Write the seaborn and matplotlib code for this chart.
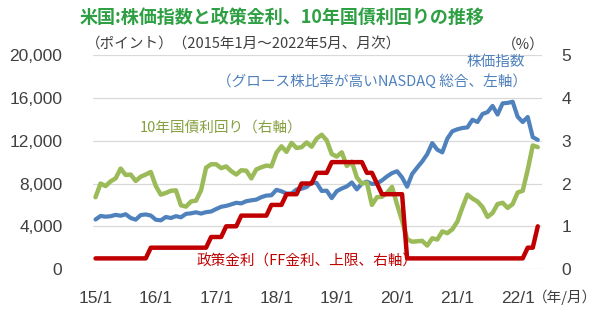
import numpy as np
import pandas as pd
import matplotlib
matplotlib.use("Agg")
import matplotlib.pyplot as plt
import seaborn as sns

sns.set_theme(style="white")
plt.rcParams['font.family'] = ['Noto Sans CJK JP', 'DejaVu Sans']

# ---- data (monthly, 2015/1 .. 2022/5) ----
nasdaq = [
    4635, 4964, 4901, 4941, 5070, 4987, 5128, 4777, 4620, 5054, 5109, 5007,
    4614, 4558, 4870, 4775, 4948, 4843, 5162, 5213, 5312, 5189, 5324, 5383,
    5615, 5825, 5912, 6048, 6199, 6140, 6348, 6429, 6496, 6728, 6874, 6903,
    7411, 7273, 7063, 7066, 7442, 7510, 7672, 8110, 8046, 7306, 7331, 6635,
    7282, 7533, 7729, 8095, 7453, 8006, 8175, 7963, 7999, 8292, 8665, 8973,
    9151, 8567, 7700, 8890, 9490, 10059, 10745, 11775, 11168, 10912, 12199, 12888,
    13071, 13192, 13247, 13962, 13749, 14504, 14673, 15259, 14449, 15498, 15538, 15645,
    14240, 13751, 14221, 12335, 12081,
]
yield10 = [
    1.68, 2.00, 1.94, 2.05, 2.12, 2.35, 2.20, 2.21, 2.06, 2.16, 2.21, 2.27,
    1.94, 1.74, 1.78, 1.83, 1.84, 1.49, 1.46, 1.58, 1.60, 1.84, 2.37, 2.45,
    2.45, 2.36, 2.40, 2.29, 2.21, 2.31, 2.30, 2.12, 2.33, 2.38, 2.42, 2.40,
    2.72, 2.87, 2.74, 2.95, 2.83, 2.85, 2.96, 2.86, 3.05, 3.14, 3.01, 2.69,
    2.63, 2.73, 2.41, 2.51, 2.14, 2.00, 2.02, 1.50, 1.68, 1.69, 1.78, 1.92,
    1.51, 1.13, 0.70, 0.64, 0.65, 0.66, 0.55, 0.72, 0.69, 0.88, 0.84, 0.93,
    1.11, 1.44, 1.74, 1.65, 1.58, 1.45, 1.22, 1.31, 1.52, 1.55, 1.43, 1.52,
    1.79, 1.83, 2.32, 2.89, 2.85,
]
ffrate = [
    0.25, 0.25, 0.25, 0.25, 0.25, 0.25, 0.25, 0.25, 0.25, 0.25, 0.25, 0.50,
    0.50, 0.50, 0.50, 0.50, 0.50, 0.50, 0.50, 0.50, 0.50, 0.50, 0.50, 0.75,
    0.75, 0.75, 1.00, 1.00, 1.00, 1.25, 1.25, 1.25, 1.25, 1.25, 1.25, 1.50,
    1.50, 1.50, 1.75, 1.75, 1.75, 2.00, 2.00, 2.00, 2.25, 2.25, 2.25, 2.50,
    2.50, 2.50, 2.50, 2.50, 2.50, 2.50, 2.25, 2.25, 2.00, 1.75, 1.75, 1.75,
    1.75, 1.75, 0.25, 0.25, 0.25, 0.25, 0.25, 0.25, 0.25, 0.25, 0.25, 0.25,
    0.25, 0.25, 0.25, 0.25, 0.25, 0.25, 0.25, 0.25, 0.25, 0.25, 0.25, 0.25,
    0.25, 0.25, 0.50, 0.50, 1.00,
]
xtick_labels = ["15/1", "16/1", "17/1", "18/1", "19/1", "20/1", "21/1", "22/1"]
left_ticks = [0, 4000, 8000, 12000, 16000, 20000]
right_ticks = [0, 1, 2, 3, 4, 5]

month_idx = np.arange(len(nasdaq))
df = pd.DataFrame({"m": month_idx, "nasdaq": nasdaq, "yield10": yield10, "ff": ffrate})

BLUE = "#4F81BD"
GREEN = "#9BBB59"
RED = "#C00000"
TXT = "#404040"
NUMFONT = ["Liberation Sans", "DejaVu Sans"]

fig = plt.figure(figsize=(6.0, 3.1), dpi=100)
ax = fig.add_axes([0.155, 0.132, 0.748, 0.69])
ax2 = ax.twinx()

ax.set_xlim(-0.5, 88.8)
ax.set_ylim(0, 20000)
ax2.set_ylim(0, 5)

for y in left_ticks:
    ax.axhline(y, color="#D9D9D9", lw=0.9, zorder=0)

sns.lineplot(data=df, x="m", y="nasdaq", ax=ax, color=BLUE, lw=3.0)
sns.lineplot(data=df, x="m", y="yield10", ax=ax2, color=GREEN, lw=3.2, zorder=3)
sns.lineplot(data=df, x="m", y="ff", ax=ax2, color=RED, lw=3.2, zorder=4)

for a in (ax, ax2):
    for s in a.spines.values():
        s.set_visible(False)
    a.set_xlabel("")
    a.set_ylabel("")

ax.set_yticks(left_ticks)
ax.set_yticklabels([f"{v:,}" for v in left_ticks], fontsize=12.5, color=TXT, family=NUMFONT)
ax2.set_yticks(right_ticks)
ax2.set_yticklabels([str(v) for v in right_ticks], fontsize=12.5, color=TXT, family=NUMFONT)
ax.tick_params(axis="y", length=0, pad=22)
ax2.tick_params(axis="y", length=0, pad=14)

ax.set_xticks(np.arange(len(xtick_labels)) * 12)
ax.set_xticklabels(xtick_labels, fontsize=12.5, color=TXT, family=NUMFONT)
ax.tick_params(axis="x", length=0, pad=16)
ax2.tick_params(axis="x", length=0, labelbottom=False, labeltop=False)

fig.text(0.133, 0.943, "米国:株価指数と政策金利、10年国債利回りの推移", fontsize=13,
         fontweight="bold", color="#2EA043", ha="left", va="center")
fig.text(0.143, 0.855, "（ポイント）（2015年1月～2022年5月、月次）", fontsize=10.5,
         color=TXT, ha="left", va="center")
fig.text(0.908, 0.857, "（%）", fontsize=10.5, color=TXT, ha="right", va="center")
fig.text(0.875, 0.800, "株価指数", fontsize=10.5, color=BLUE, ha="right", va="center")
fig.text(0.878, 0.738, "（グロース株比率が高いNASDAQ 総合、左軸）", fontsize=10.5,
         color=BLUE, ha="right", va="center")
fig.text(0.233, 0.587, "10年国債利回り（右軸）", fontsize=10.5, color="#86A040",
         ha="left", va="center")
fig.text(0.328, 0.155, "政策金利（FF金利、上限、右軸）", fontsize=10.5, color=RED,
         ha="left", va="center")
fig.text(0.995, 0.042, "（年/月）", fontsize=10.5, color=TXT, ha="right", va="center")

fig.savefig("out.png", dpi=100, facecolor="white")
